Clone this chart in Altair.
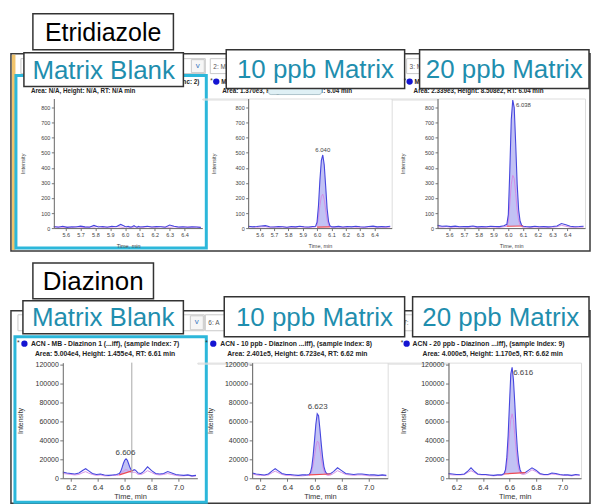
import altair as alt
import pandas as pd

# ---------------- data ----------------
T_TOP = [5.52, 5.55, 5.58, 5.61, 5.64, 5.67, 5.70, 5.73, 5.76, 5.79, 5.82, 5.85, 5.88, 5.91, 5.94, 5.97,
         5.99, 6.00, 6.01, 6.02, 6.03, 6.04, 6.05, 6.06, 6.07, 6.08, 6.09, 6.10,
         6.12, 6.15, 6.18, 6.21, 6.24, 6.27, 6.30, 6.33, 6.36, 6.39, 6.42, 6.45, 6.48, 6.51]

ETR_MB_Q = [10, 6, 12, 5, 9, 7, 13, 8, 6, 18, 7, 10, 6, 12, 9, 24, 15, 10, 7, 12, 8, 6, 10, 16, 9, 6,
            11, 7, 9, 12, 7, 10, 9, 6, 20, 12, 7, 9, 6, 8, 7, 5]
ETR_MB_Q2 = [5, 9, 4, 7, 3, 10, 5, 4, 9, 6, 12, 4, 8, 5, 10, 7, 4, 8, 11, 5, 6, 9, 4, 7, 10, 5,
             6, 8, 4, 9, 6, 5, 10, 7, 5, 9, 4, 6, 8, 5, 7, 4]

ETR_10_Q = [12, 8, 10, 14, 16, 9, 7, 11, 9, 6, 10, 8, 12, 9, 7, 10,
            12, 40, 150, 320, 450, 485, 420, 280, 130, 45, 15, 9,
            8, 11, 7, 10, 8, 12, 9, 7, 10, 13, 8, 11, 9, 12]
ETR_10_Q2 = [6, 10, 5, 8, 9, 4, 7, 5, 8, 4, 6, 5, 9, 5, 4, 6,
             8, 20, 70, 150, 210, 225, 190, 120, 55, 20, 8, 5,
             5, 7, 4, 6, 9, 5, 6, 4, 7, 8, 5, 6, 4, 7]

ETR_20_Q = [18, 12, 14, 10, 13, 9, 11, 10, 14, 8, 10, 9, 12, 11, 10, 15,
            25, 90, 380, 720, 850, 800, 560, 290, 120, 45, 20, 12,
            10, 8, 12, 9, 11, 8, 10, 14, 30, 22, 12, 9, 10, 12]
ETR_20_Q2 = [8, 6, 9, 5, 7, 6, 8, 5, 9, 4, 6, 5, 8, 6, 5, 9,
             12, 40, 160, 290, 350, 330, 230, 120, 50, 20, 9, 6,
             6, 4, 7, 5, 6, 4, 6, 9, 18, 12, 6, 5, 6, 7]

T_BOT = [6.14, 6.17, 6.20, 6.23, 6.26, 6.29, 6.31, 6.33, 6.36, 6.39, 6.42, 6.45, 6.48, 6.51, 6.54,
         6.56, 6.57, 6.58, 6.59, 6.60, 6.61, 6.62, 6.63, 6.64, 6.65, 6.66, 6.67, 6.68, 6.69, 6.70,
         6.72, 6.74, 6.77, 6.80, 6.83, 6.86, 6.89, 6.92, 6.95, 6.98, 7.01, 7.04, 7.07, 7.10, 7.13]

DIA_MB_Q = [6500, 5500, 5000, 4500, 5500, 8500, 10000, 8000, 5000, 4000, 4500, 3500, 3000, 3500, 4000,
            5000, 7000, 11000, 15500, 19000, 20500, 19000, 15000, 11000, 8500, 8000, 9000, 8500, 7000, 5500,
            5000, 7000, 12000, 8000, 5000, 4500, 5000, 7000, 5500, 4000, 3500, 3000, 3500, 2500, 3000]
DIA_MB_Q2 = [5000, 4500, 4000, 3500, 4000, 6000, 7000, 5500, 4000, 3000, 3500, 2500, 2500, 3000, 3000,
             3500, 4500, 6000, 7500, 8500, 9000, 8500, 7500, 6500, 6000, 6000, 6500, 6000, 5000, 4000,
             4000, 5000, 8000, 6000, 4000, 3500, 4000, 5000, 4000, 3000, 2500, 2500, 3000, 2000, 2500]

DIA_10_Q = [5500, 4500, 4000, 3500, 4500, 8000, 10000, 8000, 5000, 4000, 4000, 3500, 3000, 3500, 3500,
            4000, 6000, 12000, 24000, 40000, 57000, 68000, 66000, 52000, 36000, 22000, 12000, 7000, 5000, 4500,
            5000, 7000, 11000, 8000, 5000, 4500, 4000, 4500, 4500, 4000, 3500, 3500, 3000, 3500, 3000]
DIA_10_Q2 = [4500, 3500, 3000, 3000, 3500, 6000, 7500, 6000, 4000, 3000, 3000, 2500, 2500, 2500, 3000,
             3000, 4000, 7500, 14000, 23000, 33000, 39000, 38000, 30000, 21000, 13000, 7500, 4500, 3500, 3000,
             3500, 5000, 8000, 6000, 4000, 3500, 3000, 3500, 3500, 3000, 2500, 2500, 2500, 3000, 2500]

DIA_20_Q = [5000, 4500, 4000, 4000, 4500, 8000, 11000, 8000, 4500, 4000, 4000, 3500, 3000, 3500, 3500,
            5000, 9000, 22000, 45000, 78000, 110000, 117000, 104000, 80000, 52000, 30000, 16000, 9000, 6000, 5500,
            6000, 8000, 11000, 8500, 5000, 4000, 4000, 5500, 5000, 4000, 3500, 3500, 3000, 4000, 3500]
DIA_20_Q2 = [4000, 3500, 3500, 3500, 4000, 6500, 8000, 6500, 4000, 3500, 3500, 3000, 2500, 3000, 3000,
             4000, 6500, 14000, 28000, 47000, 62000, 68000, 62000, 46000, 30000, 17000, 9000, 5500, 4500, 4000,
             4500, 6000, 9000, 7000, 4000, 3500, 3500, 4500, 4000, 3500, 3000, 3000, 2500, 3500, 3000]

# integration windows: (t start, t end, baseline start, baseline end)
WIN_ETR_10 = (6.00, 6.09, 6, 8)
WIN_ETR_20 = (5.99, 6.10, 12, 14)
WIN_DIA_MB = (6.56, 6.66, 3500, 8000)
WIN_DIA_10 = (6.56, 6.72, 3500, 4500)
WIN_DIA_20 = (6.56, 6.72, 4500, 6000)

# peak labels: (t, intensity, text, align)
PK_ETR_10 = (6.04, 515, "6.040", "center")
PK_ETR_20 = (6.052, 820, "6.038", "left")
PK_DIA_MB = (6.606, 27000, "6.606", "center")
PK_DIA_10 = (6.623, 75500, "6.623", "center")
PK_DIA_20 = (6.628, 111000, "6.616", "left")

X_TICKS_TOP = [5.6, 5.7, 5.8, 5.9, 6.0, 6.1, 6.2, 6.3, 6.4]
Y_TICKS_TOP = [0, 100, 200, 300, 400, 500, 600, 700, 800]
X_TICKS_BOT = [6.2, 6.4, 6.6, 6.8, 7.0]
Y_TICKS_BOT = [0, 20000, 40000, 60000, 80000, 100000, 120000]

# ---------------- style ----------------
FONT = "Liberation Sans"
BLUE = "#4646de"
PINK = "#d487e4"
FILL = "#b7b7f2"
RED = "#ee4a55"
TEAL = "#1f8eae"
CYAN = "#2cb7da"
FRAME = "#3a3a3a"
ONE = pd.DataFrame({"k": [0]})


def rect(o, x0, y0, x1, y1, **kw):
    ox, oy = o
    return alt.Chart(ONE).mark_rect(**kw).encode(
        x=alt.value(x0 - ox), x2=alt.value(x1 - ox),
        y=alt.value(y0 - oy), y2=alt.value(y1 - oy))


def text(o, x, y, s, **kw):
    ox, oy = o
    kw.setdefault("font", FONT)
    kw.setdefault("baseline", "middle")
    kw.setdefault("align", "left")
    return alt.Chart(ONE).mark_text(text=s, **kw).encode(
        x=alt.value(x - ox), y=alt.value(y - oy))


def dot(o, x, y, size=40, color="#1414d2"):
    ox, oy = o
    return alt.Chart(ONE).mark_circle(size=size, color=color, opacity=1).encode(
        x=alt.value(x - ox), y=alt.value(y - oy))


def label_box(o, x0, y0, x1, y1, s, color=TEAL, size=26):
    return [rect(o, x0, y0, x1, y1, fill="white", stroke="#333333", strokeWidth=1.5),
            text(o, (x0 + x1) / 2, (y0 + y1) / 2 + 1, s, fontSize=size, color=color, align="center")]


def header(o, x_star, x_dot, x1, y1, s1, x2, y2, s2, fs=6.8, align1="left"):
    return [text(o, x_star, y1 - 1, "*", fontSize=fs, color="#333"),
            dot(o, x_dot, y1),
            text(o, x1, y1, s1, fontSize=fs, color="#222", fontWeight="bold", align=align1),
            text(o, x2, y2, s2, fontSize=fs, color="#222", fontWeight="bold")]


def make_axes(row, ytx):
    if row == "top":
        lf = 5.5
        xa = alt.Axis(values=X_TICKS_TOP, format=".1f", labelFontSize=lf, labelFont=FONT, labelColor="#444",
                      tickSize=2.5, tickColor="#777", domainColor="#666", labelPadding=1.5, grid=False,
                      title="Time, min", titleFontSize=lf, titleFont=FONT, titleFontWeight="normal",
                      titleColor="#444", titleY=17, titleBaseline="middle", zindex=1)
        ya = alt.Axis(values=Y_TICKS_TOP, format="d", labelFontSize=lf, labelFont=FONT, labelColor="#444",
                      tickSize=2.5, tickColor="#777", domainColor="#666", labelPadding=1.5, grid=False,
                      title="Intensity", titleFontSize=lf, titleFont=FONT, titleFontWeight="normal",
                      titleColor="#444", titleX=ytx, titleBaseline="middle", zindex=1)
    else:
        xa = alt.Axis(values=X_TICKS_BOT, format=".1f", labelFontSize=7.5, labelFont=FONT, labelColor="#333",
                      tickSize=3, tickColor="#777", domainColor="#666", labelPadding=2, grid=False,
                      title="Time, min", titleFontSize=7.5, titleFont=FONT, titleFontWeight="normal",
                      titleColor="#333", titleY=18, titleBaseline="middle", zindex=1)
        ya = alt.Axis(values=Y_TICKS_BOT, format="d", labelFontSize=7, labelFont=FONT, labelColor="#333",
                      tickSize=3, tickColor="#777", domainColor="#666", labelPadding=1.5, grid=False,
                      title="Intensity", titleFontSize=7, titleFont=FONT, titleFontWeight="normal",
                      titleColor="#333", titleX=ytx, titleBaseline="middle", zindex=1)
    return xa, ya


def traces(row, t, q, q2, win, pk, ytx, h, vline=None):
    xdom = [5.52, 6.52] if row == "top" else [6.14, 7.14]
    ydom = [0, 860] if row == "top" else [0, 122000]
    xa, ya = make_axes(row, ytx)

    def X(f):
        return alt.X(f"{f}:Q", scale=alt.Scale(domain=xdom, nice=False, zero=False), axis=xa)

    def Y(f):
        return alt.Y(f"{f}:Q", scale=alt.Scale(domain=ydom, nice=False, zero=False), axis=ya)

    df = pd.DataFrame({"t": t, "q": q, "q2": q2})
    layers = []
    if win is not None:
        t0, t1, b0, b1 = win
        layers.append(
            alt.Chart(df)
            .transform_filter(f"datum.t >= {t0 - 1e-6} && datum.t <= {t1 + 1e-6}")
            .transform_calculate(b=f"{b0} + (datum.t - {t0}) / {t1 - t0} * {b1 - b0}")
            .mark_area(color=FILL, opacity=0.85)
            .encode(x=X("t"), y=Y("q"), y2="b:Q"))
    layers.append(alt.Chart(df).mark_line(color=PINK, strokeWidth=0.9).encode(x=X("t"), y=Y("q2")))
    layers.append(alt.Chart(df).mark_line(color=BLUE, strokeWidth=1.1).encode(x=X("t"), y=Y("q")))
    if win is not None:
        t0, t1, b0, b1 = win
        bdf = pd.DataFrame({"t0": [t0], "t1": [t1], "b0": [b0], "b1": [b1]})
        layers.append(alt.Chart(bdf).mark_rule(color=RED, strokeWidth=1.2)
                      .encode(x=X("t0"), x2="t1:Q", y=Y("b0"), y2="b1:Q"))
    if vline is not None:
        vdf = pd.DataFrame({"t": [vline]})
        layers.append(alt.Chart(vdf).mark_rule(color="#a8a8a8", strokeWidth=1)
                      .encode(x=X("t"), y=alt.value(0), y2=alt.value(h)))
    if pk is not None:
        pdf = pd.DataFrame({"t": [pk[0]], "v": [pk[1]], "s": [pk[2]]})
        layers.append(alt.Chart(pdf).mark_text(font=FONT, fontSize=6 if row == "top" else 8, color="#444",
                                               align=pk[3], baseline="middle")
                      .encode(x=X("t"), y=Y("v"), text="s:N"))
    return layers


def spacer(w):
    return alt.Chart(ONE).mark_point(opacity=0).encode(
        x=alt.value(0), y=alt.value(0)).properties(width=w, height=1)


HT, HB = 130, 116

# ---------------- top row: Etridiazole ----------------
o = (53, 97)
L = [rect(o, 0, 0, 592, 504, fill="white"),
     rect(o, 10, 52, 591, 250, fill="white", stroke=FRAME, strokeWidth=1.5),
     rect(o, 11, 53, 14.5, 249, fill="#f1c46c"),
     rect(o, 20, 57, 205, 72, fill="white", stroke="#c9c9c9", strokeWidth=1),
     rect(o, 191, 58, 204, 71, fill="#f6f6f6", stroke="#c9c9c9", strokeWidth=1),
     text(o, 197.5, 64, "v", fontSize=8, color="#3a78c0", align="center"),
     rect(o, 210, 57, 262, 72, fill="white", stroke="#c9c9c9", strokeWidth=1),
     text(o, 213, 65, "2: M", fontSize=6.5, color="#555"),
     rect(o, 407, 57, 460, 72, fill="white", stroke="#c9c9c9", strokeWidth=1),
     text(o, 410, 65, "3: M", fontSize=6.5, color="#555"),
     rect(o, 15, 74, 206, 247, fill="white", fillOpacity=0, stroke=CYAN, strokeWidth=3)]
# only the parts of the header line 1 that the label boxes leave visible
L += [text(o, 199, 80, "nc: 2)", fontSize=6.3, color="#222", fontWeight="bold", align="right"),
      text(o, 30, 89, "Area: N/A, Height: N/A, RT: N/A min", fontSize=6.3, color="#222", fontWeight="bold")]
L += traces("top", T_TOP, ETR_MB_Q, ETR_MB_Q2, None, None, -31, HT)
L += label_box(o, 23, 51, 183, 85, "Matrix Blank")
L += label_box(o, 32, 12, 173, 48, "Etridiazole", color="black", size=25)
tp1 = alt.layer(*L).properties(width=149, height=HT)

o = (248, 97)
L = header(o, 210, 216, 221, 80, "M",
           222, 89, "Area: 1.370e3, Height: 4.816e2, RT: 6.04 min", fs=6.3)
L += [rect(o, 268, 83.5, 322, 93, fill="#dff0f5", stroke="#9db7c0", strokeWidth=0.8, cornerRadius=3)]
L += traces("top", T_TOP, ETR_10_Q, ETR_10_Q2, WIN_ETR_10, PK_ETR_10, -35, HT)
L += label_box(o, 226, 48, 405, 87, "10 ppb Matrix")
tp2 = alt.layer(*L).properties(width=144, height=HT)

o = (438, 97)
L = header(o, 404, 410, 415, 80, "M",
           414, 89, "Area: 2.339e3, Height: 8.508e2, RT: 6.04 min", fs=6.3)
L += traces("top", T_TOP, ETR_20_Q, ETR_20_Q2, WIN_ETR_20, PK_ETR_20, -35, HT)
L += label_box(o, 420, 48, 590, 87, "20 ppb Matrix")
tp3 = alt.layer(*L).properties(width=148, height=HT)

# ---------------- bottom row: Diazinon ----------------
o = (62, 362)
L = [rect(o, 10, 310, 591, 503, fill="white", stroke=FRAME, strokeWidth=1.5),
     rect(o, 17, 314, 204, 330, fill="white", stroke="#c9c9c9", strokeWidth=1),
     rect(o, 190, 315, 203, 329, fill="#f6f6f6", stroke="#c9c9c9", strokeWidth=1),
     text(o, 196.5, 321, "v", fontSize=8, color="#3a78c0", align="center"),
     rect(o, 205, 314, 258, 330, fill="white", stroke="#c9c9c9", strokeWidth=1),
     text(o, 208, 322, "6: A", fontSize=6.5, color="#555"),
     rect(o, 401, 314, 455, 330, fill="white", stroke="#c9c9c9", strokeWidth=1),
     text(o, 403.5, 322, "7:", fontSize=6.5, color="#555"),
     rect(o, 14, 336, 206, 502, fill="white", fillOpacity=0, stroke=CYAN, strokeWidth=3)]
L += header(o, 16, 23.5, 30, 343, "ACN - MB - Diazinon 1 (...iff), (sample Index: 7)",
            34, 353, "Area: 5.004e4, Height: 1.455e4, RT: 6.61 min")
L += traces("bot", T_BOT, DIA_MB_Q, DIA_MB_Q2, WIN_DIA_MB, PK_DIA_MB, -42, HB, vline=6.653)
L += label_box(o, 22, 300, 183, 333, "Matrix Blank")
L += label_box(o, 32, 262, 153, 298, "Diazinon", color="black")
bp1 = alt.layer(*L).properties(width=135, height=HB)

o = (252, 362)
L = header(o, 205, 213, 220, 343, "ACN - 10 ppb - Diazinon ...iff), (sample Index: 8)",
           227, 353, "Area: 2.401e5, Height: 6.723e4, RT: 6.62 min")
L += traces("bot", T_BOT, DIA_10_Q, DIA_10_Q2, WIN_DIA_10, PK_DIA_10, -42, HB)
L += label_box(o, 224, 296, 405, 336, "10 ppb Matrix")
bp2 = alt.layer(*L).properties(width=136, height=HB)

o = (449, 362)
L = header(o, 401, 407, 413, 343, "ACN - 20 ppb - Diazinon ...iff), (sample Index: 9)",
           423, 353, "Area: 4.000e5, Height: 1.170e5, RT: 6.62 min")
L += traces("bot", T_BOT, DIA_20_Q, DIA_20_Q2, WIN_DIA_20, PK_DIA_20, -45, HB)
L += label_box(o, 413, 296, 590, 336, "20 ppb Matrix")
bp3 = alt.layer(*L).properties(width=133, height=HB)

top = alt.hconcat(tp1, spacer(46), tp2, spacer(46), tp3, spacing=0, bounds="flush")
bot = alt.hconcat(spacer(9), bp1, spacer(55), bp2, spacer(61), bp3, spacing=0, bounds="flush")

# nested flush rows count as zero height, so the spacing carries the row height too
chart = (alt.vconcat(top, bot, spacing=HT + 135, bounds="flush")
         .properties(padding=0, background="white")
         .configure_view(stroke=None)
         .configure(font=FONT))

chart.save("out.html", embed_options={"renderer": "svg", "actions": False})
